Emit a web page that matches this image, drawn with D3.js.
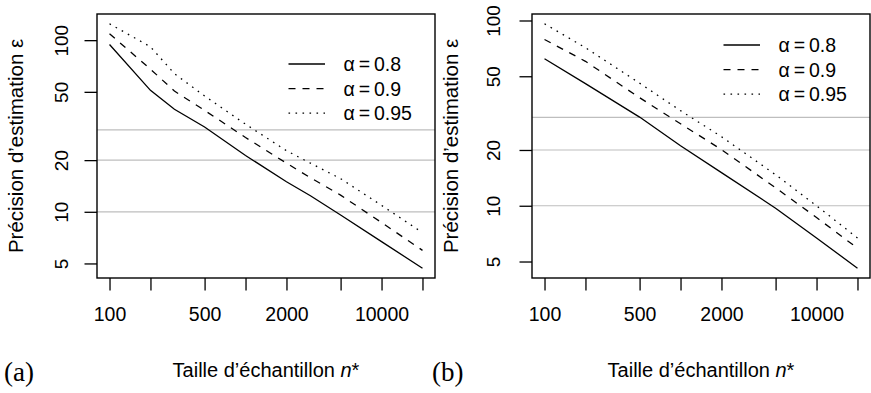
<!DOCTYPE html>
<html>
<head>
<meta charset="utf-8">
<script src="https://cdn.jsdelivr.net/npm/d3@7"></script>
<style>
  html, body { margin: 0; padding: 0; background: #ffffff; }
  svg { display: block; }
  text { font-family: "Liberation Sans", Arial, Helvetica, sans-serif; fill: #000; }
</style>
</head>
<body>
<svg id="chart" width="871" height="393"></svg>
<script>
// ---------------- data ----------------
const nLeft = [100, 200, 300, 500, 1000, 2000, 3000, 5000, 10000, 20000];
const leftAlpha080 = [94.4, 51.0, 39.6, 31.2, 21.3, 14.95, 12.4, 9.58, 6.7, 4.69];
const leftAlpha090 = [109, 67.8, 50.5, 39.0, 27.1, 19.2, 15.8, 12.5, 8.66, 5.96];
const leftAlpha095 = [124.6, 91.5, 63.8, 47.3, 32.4, 22.7, 19.2, 15.6, 10.9, 7.56];

const nRight = [100, 200, 500, 1000, 2000, 5000, 10000, 20000];
const rightAlpha080 = [62.2, 45.6, 30.1, 21.1, 15.1, 9.7, 6.7, 4.6];
const rightAlpha090 = [79.0, 60.2, 38.3, 27.7, 20.1, 12.5, 8.64, 5.9];
const rightAlpha095 = [96.0, 71.3, 45.9, 32.6, 23.6, 14.7, 10.0, 6.7];

const xTicks = [100, 200, 500, 1000, 2000, 5000, 10000, 20000];
const xTickLabels = ["100", "", "500", "", "2000", "", "10000", ""];
const yTicks = [5, 10, 20, 50, 100];
const yTickLabels = ["5", "10", "20", "50", "100"];
const refLines = [10, 20, 30];
const legendLabels = ["\u03B1\u2009=\u20090.8", "\u03B1\u2009=\u20090.9", "\u03B1\u2009=\u20090.95"];
const xTitle = "Taille d\u2019\u00E9chantillon ";
const yTitle = "Pr\u00E9cision d\u2019estimation \u03B5";
const panelTags = ["(a)", "(b)"];

// ---------------- layout ----------------
const svg = d3.select("#chart");
const dashes = [null, "7,7", "1.6,5.4"];

const panels = [
  { n: nLeft, series: [leftAlpha080, leftAlpha090, leftAlpha095],
    box: { l: 97, r: 435, t: 14, b: 278 }, yLabOff: 28.7, legX: 288.5, legY: 64, legStep: 24.6,
    tag: panelTags[0], tagX: 4 },
  { n: nRight, series: [rightAlpha080, rightAlpha090, rightAlpha095],
    box: { l: 532, r: 870, t: 14, b: 278 }, yLabOff: 31.7, legX: 723.5, legY: 45, legStep: 24.6,
    tag: panelTags[1], tagX: 432 }
];

function expandLog(ext) {
  const a = Math.log10(ext[0]), b = Math.log10(ext[1]);
  const p = (b - a) * 0.04;
  return [Math.pow(10, a - p), Math.pow(10, b + p)];
}

panels.forEach((P, pi) => {
  const B = P.box;
  const allY = P.series.flat();
  const x = d3.scaleLog().domain(expandLog(d3.extent(P.n))).range([B.l, B.r]);
  const y = d3.scaleLog().domain(expandLog(d3.extent(allY))).range([B.b, B.t]);

  const g = svg.append("g");

  // clip
  const clipId = "clip" + pi;
  svg.append("clipPath").attr("id", clipId)
    .append("rect").attr("x", B.l).attr("y", B.t).attr("width", B.r - B.l).attr("height", B.b - B.t);

  // reference lines
  g.append("g").attr("clip-path", `url(#${clipId})`)
    .selectAll("line").data(refLines).join("line")
    .attr("x1", B.l).attr("x2", B.r)
    .attr("y1", d => y(d)).attr("y2", d => y(d))
    .attr("stroke", "#bebebe").attr("stroke-width", 1.2);

  // series lines
  const line = d3.line().x(d => x(d[0])).y(d => y(d[1]));
  P.series.forEach((s, si) => {
    const pts = P.n.map((nv, i) => [nv, s[i]]);
    g.append("path").datum(pts)
      .attr("clip-path", `url(#${clipId})`)
      .attr("d", line)
      .attr("fill", "none")
      .attr("stroke", "#000")
      .attr("stroke-width", 1.3)
      .attr("stroke-dasharray", dashes[si]);
  });

  // box
  g.append("rect").attr("x", B.l).attr("y", B.t)
    .attr("width", B.r - B.l).attr("height", B.b - B.t)
    .attr("fill", "none").attr("stroke", "#000").attr("stroke-width", 1.4);

  // x axis
  const xa = g.append("g").attr("transform", `translate(0,${B.b})`)
    .call(d3.axisBottom(x).tickValues(xTicks).tickSize(12.5).tickSizeOuter(0)
      .tickFormat((d, i) => xTickLabels[i]));
  xa.select(".domain").remove();
  xa.selectAll(".tick line").attr("stroke", "#000").attr("stroke-width", 1.3);
  xa.selectAll(".tick text").attr("font-size", 19.5).attr("font-family", "Liberation Sans, Arial, sans-serif")
    .attr("y", 42.5).attr("dy", 0).attr("fill", "#000");

  // y axis
  const ya = g.append("g").attr("transform", `translate(${B.l},0)`)
    .call(d3.axisLeft(y).tickValues(yTicks).tickSize(12.5).tickSizeOuter(0)
      .tickFormat((d, i) => yTickLabels[i]));
  ya.select(".domain").remove();
  ya.selectAll(".tick line").attr("stroke", "#000").attr("stroke-width", 1.3);
  ya.selectAll(".tick text")
    .attr("font-size", 19).attr("font-family", "Liberation Sans, Arial, sans-serif")
    .attr("x", 0).attr("y", -P.yLabOff).attr("dy", 0)
    .attr("text-anchor", "middle").attr("transform", "rotate(-90)").attr("fill", "#000");

  // axis titles
  const xt = g.append("text")
    .attr("x", (B.l + B.r) / 2).attr("y", 376.7)
    .attr("text-anchor", "middle").attr("font-size", 20);
  xt.append("tspan").text(xTitle);
  xt.append("tspan").attr("font-style", "italic").text("n");
  xt.append("tspan").text("*");

  g.append("text")
    .attr("transform", `translate(${B.l - 73.6},${(B.t + B.b) / 2}) rotate(-90)`)
    .attr("text-anchor", "middle").attr("font-size", 20.5)
    .text(yTitle);

  // legend
  const leg = g.append("g");
  legendLabels.forEach((lab, i) => {
    const ly = P.legY + i * P.legStep;
    leg.append("line").attr("x1", P.legX).attr("x2", P.legX + 36.5)
      .attr("y1", ly).attr("y2", ly)
      .attr("stroke", "#000").attr("stroke-width", 1.3)
      .attr("stroke-dasharray", dashes[i]);
    leg.append("text").attr("x", P.legX + 55).attr("y", ly).attr("dy", "0.36em")
      .attr("font-size", 19.5).text(lab);
  });

  // panel tag
  g.append("text").attr("x", P.tagX).attr("y", 381)
    .style("font-family", "'Liberation Serif', 'DejaVu Serif', serif")
    .attr("font-size", 27).text(P.tag);
});
</script>
</body>
</html>
